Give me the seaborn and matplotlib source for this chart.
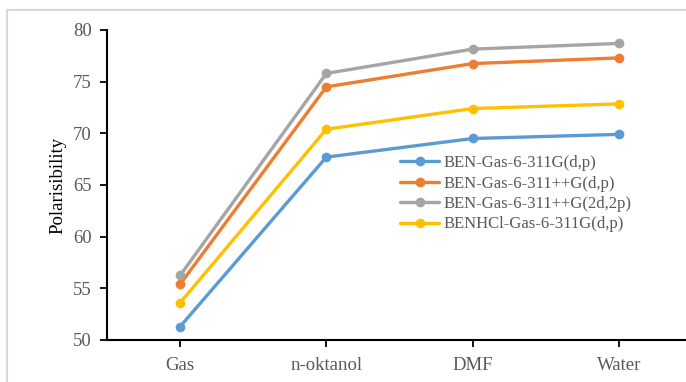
import pandas as pd
import matplotlib
matplotlib.use("Agg")
import matplotlib.pyplot as plt
import seaborn as sns

# --- DATA ---
solvents = ["Gas", "n-oktanol", "DMF", "Water"]
series_names = [
    "BEN-Gas-6-311G(d,p)",
    "BEN-Gas-6-311++G(d,p)",
    "BEN-Gas-6-311++G(2d,2p)",
    "BENHCl-Gas-6-311G(d,p)",
]
ben_311g = [51.3, 67.7, 69.5, 69.9]
ben_311ppg = [55.4, 74.5, 76.75, 77.3]
ben_311ppg_2d2p = [56.25, 75.8, 78.15, 78.7]
benhcl_311g = [53.6, 70.4, 72.4, 72.85]
yticks = [50, 55, 60, 65, 70, 75, 80]

COLORS = ["#5B9BD5", "#ED7D31", "#A5A5A5", "#FFC000"]
TEXT = "#595959"

rows = []
for name, vals in zip(series_names, [ben_311g, ben_311ppg, ben_311ppg_2d2p, benhcl_311g]):
    for s, v in zip(solvents, vals):
        rows.append({"solvent": s, "value": v, "series": name})
df = pd.DataFrame(rows)

sns.set_style("white")
plt.rcParams["font.family"] = ["Liberation Serif", "DejaVu Serif"]

fig = plt.figure(figsize=(6.86, 3.82), dpi=100)
# light frame around the chart area (Excel chart border)
fig.patches.append(plt.Rectangle((7 / 686, -0.1), 1.0, 1.1 - 10 / 382, transform=fig.transFigure,
                                 fill=False, edgecolor="#d9d9d9", linewidth=1.5))
ax = fig.add_axes([107 / 686, 42 / 382, 585 / 686, 310 / 382])

sns.lineplot(data=df, x="solvent", y="value", hue="series", palette=COLORS,
             marker="o", markersize=7, markeredgewidth=0, linewidth=2.4,
             sort=False, ax=ax)

ax.set_xlim(-0.5, 3.5)
ax.set_ylim(50, 80)
ax.set_yticks(yticks)
ax.set_xlabel("")
ax.set_ylabel("Polarisibility", fontsize=13.5, color="black", labelpad=5)

for sp in ["top", "right"]:
    ax.spines[sp].set_visible(False)
for sp in ["left", "bottom"]:
    ax.spines[sp].set_color("black")
    ax.spines[sp].set_linewidth(1.5)

ax.tick_params(axis="both", direction="out", length=5, width=1.3, colors="black",
               labelcolor=TEXT, labelsize=13.5, left=True, bottom=True)
ax.tick_params(axis="x", pad=7)
ax.tick_params(axis="y", pad=6)

leg = ax.legend(loc="upper left", bbox_to_anchor=(400 / 686, 1 - 155 / 382),
                bbox_transform=fig.transFigure, frameon=False, fontsize=12,
                handlelength=2.35, handletextpad=0.25, labelspacing=0.27,
                borderpad=0, borderaxespad=0)
for t in leg.get_texts():
    t.set_color(TEXT)

fig.savefig("out.png", dpi=100)
